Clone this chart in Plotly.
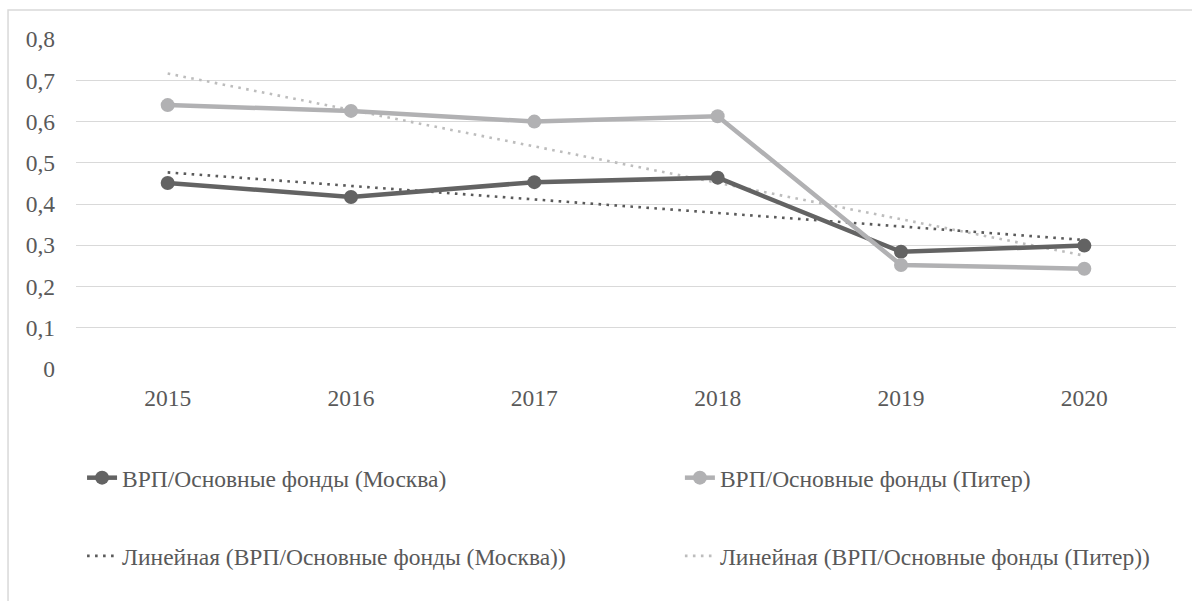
import numpy as np
import plotly.graph_objects as go

years = ["2015", "2016", "2017", "2018", "2019", "2020"]
moscow = [0.451, 0.417, 0.453, 0.464, 0.284, 0.299]
piter = [0.640, 0.626, 0.600, 0.613, 0.252, 0.243]
y_ticks = [0, 0.1, 0.2, 0.3, 0.4, 0.5, 0.6, 0.7, 0.8]
y_tick_text = ["0", "0,1", "0,2", "0,3", "0,4", "0,5", "0,6", "0,7", "0,8"]

name_m = "ВРП/Основные фонды (Москва)"
name_p = "ВРП/Основные фонды (Питер)"
name_tm = "Линейная (ВРП/Основные фонды (Москва))"
name_tp = "Линейная (ВРП/Основные фонды (Питер))"

DARK = "#636363"
LIGHT = "#b1b1b3"
DARK_T = "#5a5a5a"
LIGHT_T = "#bdbdbd"
TXT = "#595959"
GRID = "#d9d9d9"
FONT = "Liberation Serif"
FS = 23.5

idx = np.arange(len(years))
def trend(vals):
    k, b = np.polyfit(idx, vals, 1)
    return list(k * idx + b)

fig = go.Figure()
fig.add_trace(go.Scatter(x=years, y=trend(moscow), name=name_tm, mode="lines",
                         line=dict(color=DARK_T, width=2.6, dash="2.6px,5.4px"),
                         legend="legend3"))
fig.add_trace(go.Scatter(x=years, y=trend(piter), name=name_tp, mode="lines",
                         line=dict(color=LIGHT_T, width=2.6, dash="2.6px,5.4px"),
                         legend="legend4"))
fig.add_trace(go.Scatter(x=years, y=moscow, name=name_m, mode="lines+markers",
                         line=dict(color=DARK, width=4.5), marker=dict(size=14, color=DARK),
                         legend="legend"))
fig.add_trace(go.Scatter(x=years, y=piter, name=name_p, mode="lines+markers",
                         line=dict(color=LIGHT, width=4.5), marker=dict(size=14, color=LIGHT),
                         legend="legend2"))

def leg(x, y):
    return dict(x=x, y=y, orientation="h", xanchor="left", yanchor="middle",
                font=dict(family=FONT, size=FS, color=TXT),
                bgcolor="rgba(0,0,0,0)")

fig.update_layout(
    width=1192, height=601,
    margin=dict(l=76, r=16, t=39, b=232),
    paper_bgcolor="white", plot_bgcolor="white",
    font=dict(family=FONT, size=FS, color=TXT),
    showlegend=True,
    legend=leg(0.0055, -0.33),
    legend2=leg(0.549, -0.33),
    legend3=leg(0.0055, -0.567),
    legend4=leg(0.549, -0.567),
    xaxis=dict(type="category", range=[-0.5, 5.5], showgrid=False, zeroline=False,
               showline=False, ticks="", tickfont=dict(family=FONT, size=FS, color=TXT),
               ticklabelstandoff=12),
    yaxis=dict(range=[-0.0005, 0.8005], tickvals=y_ticks, ticktext=y_tick_text,
               showgrid=True, gridcolor=GRID, gridwidth=1.3, zeroline=False,
               showline=False, ticks="", tickfont=dict(family=FONT, size=FS, color=TXT),
               ticklabelstandoff=20),
    shapes=[dict(type="rect", xref="paper", yref="paper",
                 x0=-0.0618, x1=1.2, y0=-1.0, y1=1.088,
                 line=dict(color=GRID, width=1.5), fillcolor="rgba(0,0,0,0)", layer="below")],
)

fig.write_html("out.html", config={"displayModeBar": False},
               post_script="document.body.style.margin='0';")
